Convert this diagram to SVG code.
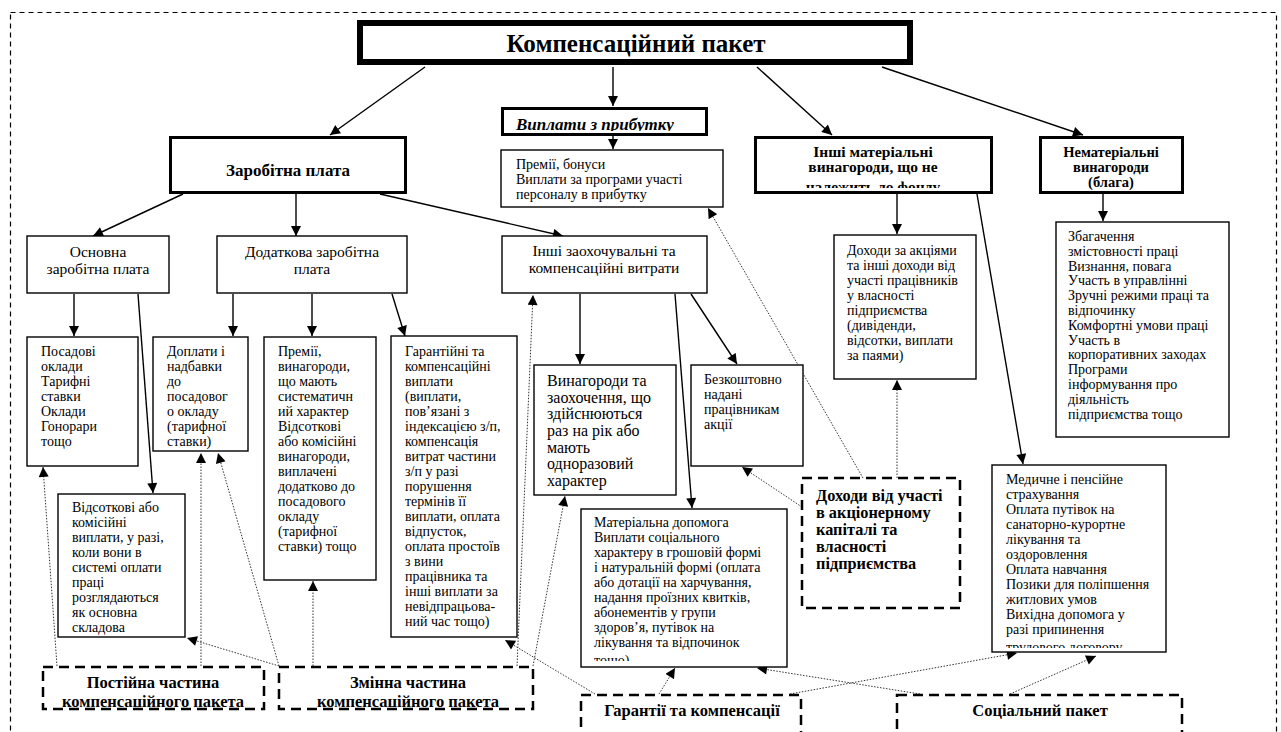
<svg xmlns="http://www.w3.org/2000/svg" width="1281" height="732" viewBox="0 0 1281 732">
<style>
text{font-family:"Liberation Serif","Times New Roman",serif;fill:#000}
.t{font-size:14px}
.t16{font-size:16px}
.tc{font-size:16.5px;text-anchor:middle}
.tm{font-size:15.5px;text-anchor:middle}
.b{font-weight:bold}
.box{fill:#fff;stroke:#000;stroke-width:1.4}
.thick{fill:#fff;stroke:#000;stroke-width:3}
.dash{fill:#fff;stroke:#000;stroke-width:2.5;stroke-dasharray:10 6}
.c{fill:none;stroke:#000;stroke-width:1.4;marker-end:url(#a)}
.d{fill:none;stroke:#333;stroke-width:1;stroke-dasharray:1.5 1.5;marker-end:url(#a)}
</style>
<defs>
<marker id="a" viewBox="0 0 10 10" refX="10" refY="5" markerWidth="11" markerHeight="10" markerUnits="userSpaceOnUse" orient="auto"><path d="M0,0 L10,5 L0,10 z" fill="#000"/></marker>
<clipPath id="cv"><rect x="502" y="108" width="204" height="23"/></clipPath>
<clipPath id="cim"><rect x="756" y="139" width="234" height="49"/></clipPath>
<clipPath id="cmd"><rect x="993" y="466" width="172" height="182"/></clipPath>
<clipPath id="cma"><rect x="582" y="510" width="204" height="151"/></clipPath>
<clipPath id="cpo"><rect x="44" y="668" width="219" height="39"/></clipPath>
<clipPath id="czm"><rect x="280" y="668" width="252" height="39"/></clipPath>
</defs>
<rect x="10.5" y="12.5" width="1266" height="740" fill="none" stroke="#000" stroke-width="1.2" stroke-dasharray="5 4"/>

<g id="connectors">
<path class="c" d="M425,67 L330,135"/>
<path class="c" d="M613,67 L613,106"/>
<path class="c" d="M757,67 L832,135"/>
<path class="c" d="M882,67 L1083,135"/>
<path class="c" d="M613,136 L613,149"/>
<path class="c" d="M183,194 L93,236"/>
<path class="c" d="M296,194 L296,236"/>
<path class="c" d="M380,194 L563,236"/>
<path class="c" d="M74,294 L74,336"/>
<path class="c" d="M138,294 L153,493"/>
<path class="c" d="M233,294 L233,336"/>
<path class="c" d="M312,294 L312,336"/>
<path class="c" d="M392,294 L405,336"/>
<path class="c" d="M580,294 L580,364"/>
<path class="c" d="M675,294 L692,508"/>
<path class="c" d="M691,294 L737,364"/>
<path class="c" d="M897,194 L897,234"/>
<path class="c" d="M977,194 L1023,464"/>
<path class="c" d="M1103,194 L1103,221"/>
<path class="d" d="M57,666 L43,467"/>
<path class="d" d="M201,666 L201,453"/>
<path class="d" d="M279,666 L218,453"/>
<path class="d" d="M279,666 L187,638"/>
<path class="d" d="M313,666 L313,581"/>
<path class="d" d="M517,666 L533,295"/>
<path class="d" d="M533,666 L565,496"/>
<path class="d" d="M595,694 L505,640"/>
<path class="d" d="M659,694 L675,668"/>
<path class="d" d="M790,694 L1017,653"/>
<path class="d" d="M920,694 L757,668"/>
<path class="d" d="M1010,694 L1096,656"/>
<path class="d" d="M863,478 L708,208"/>
<path class="d" d="M897,478 L897,380"/>
<path class="d" d="M802,507 L742,467"/>
</g>

<g id="main">
<rect x="360" y="23" width="550" height="39" fill="#fff" stroke="#000" stroke-width="6"/>
<text x="636" y="52" class="b" font-size="25" text-anchor="middle">Компенсаційний пакет</text>
</g>

<g id="vyplaty">
<rect class="thick" x="502.5" y="108.5" width="204" height="26"/>
<g clip-path="url(#cv)"><text x="516" y="129.5" class="b" font-size="17" font-style="italic">Виплати з прибутку</text></g>
</g>

<g id="premii-bonusy">
<rect class="box" x="501" y="150" width="222" height="57"/>
<text class="t" x="516"><tspan x="516" y="169">Премії, бонуси</tspan><tspan x="516" y="184">Виплати за програми участі</tspan><tspan x="516" y="199">персоналу в прибутку</tspan></text>
</g>

<g id="zarobitna">
<rect class="thick" x="170.5" y="137.5" width="235" height="55"/>
<text x="288" y="176" class="b" font-size="17" text-anchor="middle">Заробітна плата</text>
</g>

<g id="inshi-materialni">
<rect class="thick" x="755.5" y="137.5" width="236" height="55"/>
<g clip-path="url(#cim)"><text class="b" font-size="15.5" text-anchor="middle"><tspan x="873" y="157">Інші матеріальні</tspan><tspan x="873" y="172">винагороди, що не</tspan><tspan x="873" y="192">належить до фонду</tspan></text></g>
</g>

<g id="nematerialni">
<rect class="thick" x="1040.5" y="137.5" width="142" height="55"/>
<text class="b" font-size="14.5" text-anchor="middle"><tspan x="1111" y="157">Нематеріальні</tspan><tspan x="1111" y="172">винагороди</tspan><tspan x="1111" y="187">(блага)</tspan></text>
</g>

<g id="osnovna">
<rect class="box" x="27" y="236" width="142" height="57"/>
<text class="tm"><tspan x="98" y="257">Основна</tspan><tspan x="98" y="274">заробітна плата</tspan></text>
</g>

<g id="dodatkova">
<rect class="box" x="217" y="236" width="190" height="57"/>
<text class="tm"><tspan x="312" y="257">Додаткова заробітна</tspan><tspan x="312" y="274">плата</tspan></text>
</g>

<g id="inshi-zaohochuvalni">
<rect class="box" x="502" y="236" width="205" height="57"/>
<text class="tm"><tspan x="604" y="256">Інші заохочувальні та</tspan><tspan x="604" y="273">компенсаційні витрати</tspan></text>
</g>

<g id="posadovi">
<rect class="box" x="27" y="337" width="111" height="129" stroke-width="2"/>
<text class="t"><tspan x="41" y="356">Посадові</tspan><tspan x="41" y="371">оклади</tspan><tspan x="41" y="386">Тарифні</tspan><tspan x="41" y="401">ставки</tspan><tspan x="41" y="416">Оклади</tspan><tspan x="41" y="431">Гонорари</tspan><tspan x="41" y="446">тощо</tspan></text>
</g>

<g id="doplaty">
<rect class="box" x="153" y="337" width="95" height="114"/>
<text class="t"><tspan x="167" y="356">Доплати і</tspan><tspan x="167" y="371">надбавки</tspan><tspan x="167" y="386">до</tspan><tspan x="167" y="401">посадовог</tspan><tspan x="167" y="416">о окладу</tspan><tspan x="167" y="431">(тарифної</tspan><tspan x="167" y="446">ставки)</tspan></text>
</g>

<g id="premii-vynagorody">
<rect class="box" x="264" y="337" width="112" height="243"/>
<text class="t"><tspan x="278" y="356">Премії,</tspan><tspan x="278" y="371">винагороди,</tspan><tspan x="278" y="386">що мають</tspan><tspan x="278" y="401">систематичн</tspan><tspan x="278" y="416">ий характер</tspan><tspan x="278" y="431">Відсоткові</tspan><tspan x="278" y="446">або комісійні</tspan><tspan x="278" y="461">винагороди,</tspan><tspan x="278" y="476">виплачені</tspan><tspan x="278" y="491">додатково до</tspan><tspan x="278" y="506">посадового</tspan><tspan x="278" y="521">окладу</tspan><tspan x="278" y="536">(тарифної</tspan><tspan x="278" y="551">ставки) тощо</tspan></text>
</g>

<g id="garantiini">
<rect class="box" x="391" y="336" width="126" height="301"/>
<text class="t"><tspan x="405" y="356">Гарантійні та</tspan><tspan x="405" y="371">компенсаційні</tspan><tspan x="405" y="386">виплати</tspan><tspan x="405" y="401">(виплати,</tspan><tspan x="405" y="416">пов’язані з</tspan><tspan x="405" y="431">індексацією з/п,</tspan><tspan x="405" y="446">компенсація</tspan><tspan x="405" y="461">витрат частини</tspan><tspan x="405" y="476">з/п у разі</tspan><tspan x="405" y="491">порушення</tspan><tspan x="405" y="506">термінів її</tspan><tspan x="405" y="521">виплати, оплата</tspan><tspan x="405" y="536">відпусток,</tspan><tspan x="405" y="551">оплата простоїв</tspan><tspan x="405" y="566">з вини</tspan><tspan x="405" y="581">працівника та</tspan><tspan x="405" y="596">інші виплати за</tspan><tspan x="405" y="611">невідпрацьова-</tspan><tspan x="405" y="626">ний час тощо)</tspan></text>
</g>

<g id="vidsotkovi">
<rect class="box" x="58" y="494" width="127" height="143"/>
<text class="t"><tspan x="72" y="512">Відсоткові  або</tspan><tspan x="72" y="527">комісійні</tspan><tspan x="72" y="542">виплати, у разі,</tspan><tspan x="72" y="557">коли вони в</tspan><tspan x="72" y="572">системі оплати</tspan><tspan x="72" y="587">праці</tspan><tspan x="72" y="602">розглядаються</tspan><tspan x="72" y="617">як основна</tspan><tspan x="72" y="632">складова</tspan></text>
</g>

<g id="vynagorody-zaohochennia">
<rect class="box" x="534" y="365" width="142" height="130"/>
<text class="t16"><tspan x="547" y="386">Винагороди та</tspan><tspan x="547" y="403">заохочення, що</tspan><tspan x="547" y="419">здійснюються</tspan><tspan x="547" y="436">раз на рік або</tspan><tspan x="547" y="453">мають</tspan><tspan x="547" y="469">одноразовий</tspan><tspan x="547" y="486">характер</tspan></text>
</g>

<g id="bezkoshtovno">
<rect class="box" x="691" y="365" width="112" height="101"/>
<text class="t"><tspan x="704" y="384">Безкоштовно</tspan><tspan x="704" y="399">надані</tspan><tspan x="704" y="414">працівникам</tspan><tspan x="704" y="429">акції</tspan></text>
</g>

<g id="dohody-akciiamy">
<rect class="box" x="834" y="235" width="142" height="144"/>
<text class="t"><tspan x="847" y="255">Доходи за акціями</tspan><tspan x="847" y="270">та інші доходи від</tspan><tspan x="847" y="285">участі працівників</tspan><tspan x="847" y="300">у власності</tspan><tspan x="847" y="315">підприємства</tspan><tspan x="847" y="330">(дивіденди,</tspan><tspan x="847" y="345">відсотки, виплати</tspan><tspan x="847" y="360">за паями)</tspan></text>
</g>

<g id="zbagachennia">
<rect class="box" x="1056" y="222" width="173" height="215"/>
<text class="t"><tspan x="1068" y="241">Збагачення</tspan><tspan x="1068" y="256">змістовності праці</tspan><tspan x="1068" y="271">Визнання, повага</tspan><tspan x="1068" y="285">Участь в управлінні</tspan><tspan x="1068" y="300">Зручні режими праці та</tspan><tspan x="1068" y="315">відпочинку</tspan><tspan x="1068" y="330">Комфортні умови праці</tspan><tspan x="1068" y="345">Участь в</tspan><tspan x="1068" y="359">корпоративних заходах</tspan><tspan x="1068" y="374">Програми</tspan><tspan x="1068" y="389">інформування про</tspan><tspan x="1068" y="404">діяльність</tspan><tspan x="1068" y="419">підприємства тощо</tspan></text>
</g>

<g id="medychne">
<rect class="box" x="992" y="465" width="174" height="187" stroke-width="1.8"/>
<g clip-path="url(#cmd)"><text class="t"><tspan x="1006" y="484">Медичне і пенсійне</tspan><tspan x="1006" y="499">страхування</tspan><tspan x="1006" y="514">Оплата путівок на</tspan><tspan x="1006" y="529">санаторно-курортне</tspan><tspan x="1006" y="544">лікування та</tspan><tspan x="1006" y="559">оздоровлення</tspan><tspan x="1006" y="574">Оплата навчання</tspan><tspan x="1006" y="589">Позики для поліпшення</tspan><tspan x="1006" y="604">житлових умов</tspan><tspan x="1006" y="619">Вихідна допомога у</tspan><tspan x="1006" y="634">разі припинення</tspan><tspan x="1006" y="652">трудового договору</tspan></text></g>
</g>

<g id="materialna-dopomoga">
<rect class="box" x="581" y="509" width="206" height="158"/>
<g clip-path="url(#cma)"><text class="t"><tspan x="594" y="527">Матеріальна допомога</tspan><tspan x="594" y="542">Виплати соціального</tspan><tspan x="594" y="557">характеру в грошовій формі</tspan><tspan x="594" y="572">і натуральній формі (оплата</tspan><tspan x="594" y="587">або дотації на харчування,</tspan><tspan x="594" y="602">надання проїзних квитків,</tspan><tspan x="594" y="617">абонементів у групи</tspan><tspan x="594" y="632">здоров’я, путівок на</tspan><tspan x="594" y="647">лікування та відпочинок</tspan><tspan x="594" y="665">тощо)</tspan></text></g>
</g>

<g id="dohody-uchasti">
<rect class="dash" x="802" y="478" width="158" height="130"/>
<text class="b" font-size="16.3"><tspan x="816" y="501">Доходи від участі</tspan><tspan x="816" y="518">в акціонерному</tspan><tspan x="816" y="535">капіталі та</tspan><tspan x="816" y="552">власності</tspan><tspan x="816" y="569">підприємства</tspan></text>
</g>

<g id="postiina">
<rect class="dash" x="43" y="667" width="221" height="42"/>
<g clip-path="url(#cpo)"><text class="tc b"><tspan x="153" y="688">Постійна частина</tspan><tspan x="153" y="707">компенсаційного пакета</tspan></text></g>
</g>

<g id="zminna">
<rect class="dash" x="279" y="667" width="254" height="42"/>
<g clip-path="url(#czm)"><text class="tc b"><tspan x="408" y="688">Змінна частина</tspan><tspan x="408" y="707">компенсаційного пакета</tspan></text></g>
</g>

<g id="garantii">
<rect class="dash" x="581" y="695" width="220" height="60"/>
<text x="692" y="716" class="tc b">Гарантії та компенсації</text>
</g>

<g id="socialnyi">
<rect class="dash" x="897" y="695" width="285" height="60"/>
<text x="1040" y="716" class="tc b">Соціальний пакет</text>
</g>
</svg>
